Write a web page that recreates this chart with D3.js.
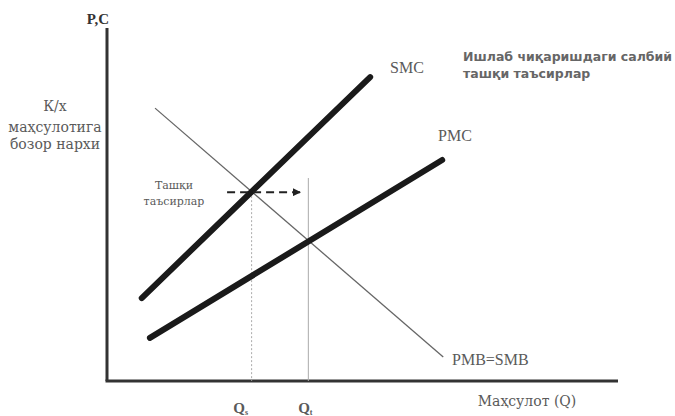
<!DOCTYPE html>
<html>
<head>
<meta charset="utf-8">
<script src="https://cdn.jsdelivr.net/npm/d3@7"></script>
<style>
  body { margin: 0; background: #fff; }
  text { font-family: "Liberation Serif", "DejaVu Serif", serif; fill: #5a5a5a; }
</style>
</head>
<body>
<div id="chart"></div>
<script>
// curves in chart units (quantity 0-100, price 0-100)
const smcLine = [[6.8, 23.5], [51.5, 86.1]]
const pmcLine = [[8.4, 12.2], [65.6, 62.6]]
const demandLine = [[9.4, 77.3], [65.8, 6.8]]
const qLevels = [{ name: "Q", sub: "s", q: 28.3, top: 53.5 }, { name: "Q", sub: "t", q: 39.4, top: 57.5 }]
const arrowPts = [[23.5, 53.5], [37.8, 53.5]]
const yLabel = ["К/х", "маҳсулотига", "бозор нархи"]
const noteLines = ["Ишлаб чиқаришдаги салбий", "ташқи таъсирлар"]
const extLabel = ["Ташқи", "таъсирлар"]

const width = 675
const height = 416
const mLeft = 107, mRight = 618, mTop = 28, mBottom = 381

const x = d3.scaleLinear().domain([0, 100]).range([mLeft, mRight])
const y = d3.scaleLinear().domain([0, 100]).range([mBottom, mTop])

const svg = d3.select("#chart").append("svg")
    .attr("width", width)
    .attr("height", height)

svg.append("defs").append("marker")
    .attr("id", "arr")
    .attr("viewBox", "0 0 10 10")
    .attr("refX", 9).attr("refY", 5)
    .attr("markerWidth", 4).attr("markerHeight", 4)
    .attr("orient", "auto")
  .append("path")
    .attr("d", "M0,0L10,5L0,10z")
    .attr("fill", "#222")

const line = d3.line().x(d => x(d[0])).y(d => y(d[1]))

// axes
svg.append("line")
    .attr("x1", mLeft).attr("x2", mLeft)
    .attr("y1", mTop).attr("y2", mBottom)
    .attr("stroke", "#333").attr("stroke-width", 3)
svg.append("line")
    .attr("x1", mLeft - 1.5).attr("x2", mRight)
    .attr("y1", mBottom).attr("y2", mBottom)
    .attr("stroke", "#333").attr("stroke-width", 3)

// Q guide lines
svg.selectAll(".guide")
    .data(qLevels).enter().append("line")
      .attr("class", "guide")
      .attr("x1", d => x(d.q)).attr("x2", d => x(d.q))
      .attr("y1", d => y(d.top)).attr("y2", mBottom)
      .attr("stroke", "#aaa")
      .attr("stroke-width", 1)
      .attr("stroke-dasharray", (d, i) => i === 0 ? "2,2" : null)

// demand line (thin)
svg.append("path")
    .attr("d", line(demandLine))
    .attr("stroke", "#666").attr("stroke-width", 1.3).attr("fill", "none")

// SMC and PMC (thick)
svg.selectAll(".cost")
    .data([smcLine, pmcLine]).enter().append("path")
      .attr("class", "cost")
      .attr("d", d => line(d))
      .attr("stroke", "#1a1a1a")
      .attr("stroke-width", 6)
      .attr("stroke-linecap", "round")
      .attr("fill", "none")

// dashed arrow
svg.append("path")
    .attr("d", line(arrowPts))
    .attr("stroke", "#222").attr("stroke-width", 2)
    .attr("stroke-dasharray", "8,5")
    .attr("fill", "none")
    .attr("marker-end", "url(#arr)")

// labels
svg.append("text").text("P,C")
    .attr("x", 98).attr("y", 24)
    .attr("text-anchor", "middle")
    .attr("font-size", 15).attr("font-weight", "bold")
    .style("fill", "#333")

svg.append("g").selectAll("text")
    .data(yLabel).enter().append("text")
      .text(d => d)
      .attr("x", 55).attr("y", (d, i) => [111, 132, 149][i])
      .attr("text-anchor", "middle")
      .attr("font-size", 14)
      .style("font-family", "'DejaVu Serif', serif")

svg.append("g").selectAll("text")
    .data(noteLines).enter().append("text")
      .text(d => d)
      .attr("x", 463).attr("y", (d, i) => 61 + i * 17)
      .attr("font-size", 12.5)
      .attr("font-weight", "bold")
      .style("font-family", "'DejaVu Sans', sans-serif")
      .style("fill", "#666")

svg.append("g").selectAll("text")
    .data(extLabel).enter().append("text")
      .text(d => d)
      .attr("x", 174).attr("y", (d, i) => 189 + i * 16)
      .attr("text-anchor", "middle")
      .attr("font-size", 11)
      .style("font-family", "'DejaVu Serif', serif")

svg.append("text").text("SMC")
    .attr("x", 390).attr("y", 73).attr("font-size", 16)
svg.append("text").text("PMC")
    .attr("x", 438).attr("y", 141).attr("font-size", 16)
svg.append("text").text("PMB=SMB")
    .attr("x", 452).attr("y", 365).attr("font-size", 16)
svg.append("text").text("Маҳсулот  (Q)")
    .attr("x", 527).attr("y", 406).attr("text-anchor", "middle").attr("font-size", 14)
    .style("font-family", "'DejaVu Serif', serif")

const ql = svg.append("g").selectAll("text")
    .data(qLevels).enter().append("text")
      .attr("x", (d, i) => x(d.q) - (i === 0 ? 11 : 3)).attr("y", 413)
      .attr("text-anchor", "middle")
      .attr("font-size", 15)
      .attr("font-weight", "bold")
ql.append("tspan").text(d => d.name)
ql.append("tspan").text(d => d.sub).attr("font-size", 8).attr("dy", 2)
</script>
</body>
</html>
